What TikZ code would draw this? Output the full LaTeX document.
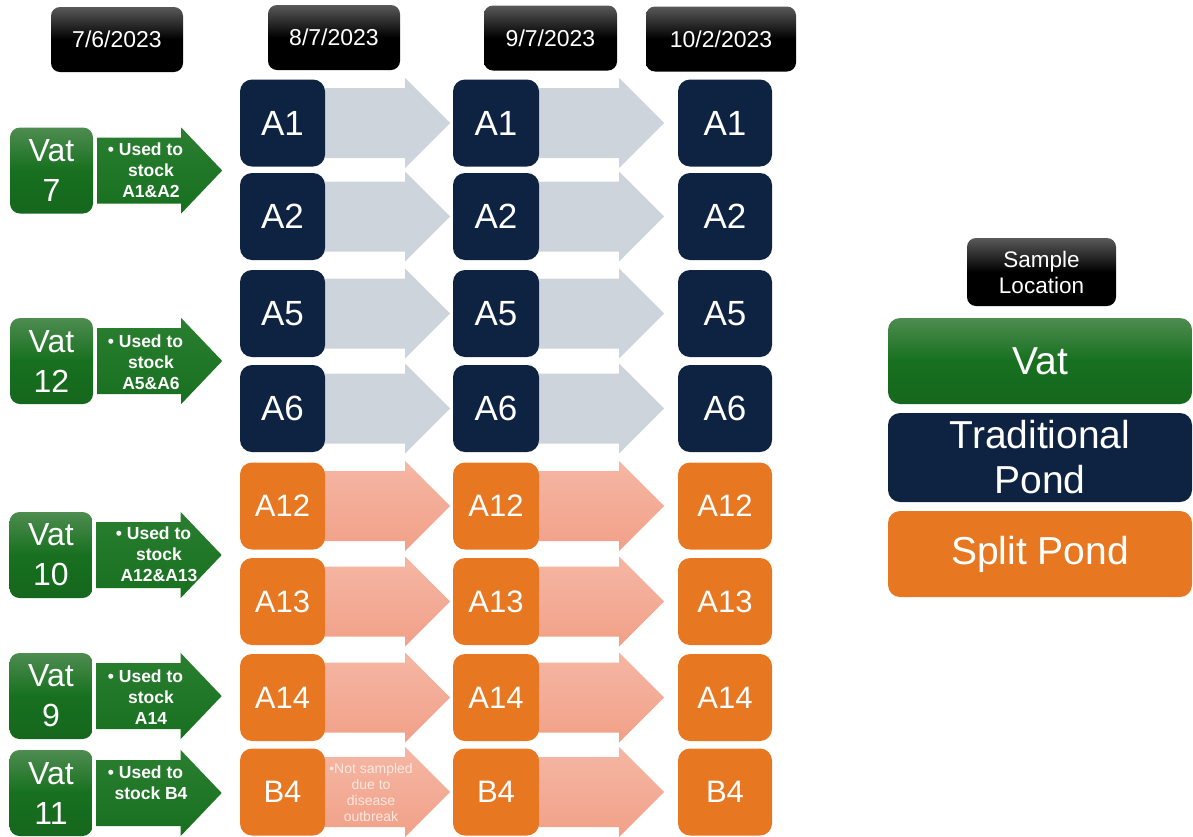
\documentclass[tikz,border=0pt]{standalone}
\usepackage{fontspec}
\setmainfont{Liberation Sans}
\usetikzlibrary{calc}
\pgfdeclarelayer{bg}
\pgfsetlayers{bg,main}
\definecolor{navy}{HTML}{0E2341}
\definecolor{orng}{HTML}{E87722}
\definecolor{vgreen}{HTML}{17701F}
\definecolor{vgreenlt}{HTML}{4E8C50}
\definecolor{vgreenarr}{HTML}{2A7E30}
\definecolor{garrow}{HTML}{CED4DB}
\definecolor{parrowtop}{HTML}{F4B7A4}
\definecolor{parrowbot}{HTML}{F2A088}
\definecolor{notetext}{HTML}{FCE8E0}
\newcommand\fsz[2]{\fontsize{#1}{#2}\selectfont}
\newcommand\blockarrow[2]{%
  \path[#1] ($(#2.east)+(-10,-35)$) -- ($(#2.east)+(80,-35)$) -- ($(#2.east)+(80,-45)$)
    -- ($(#2.east)+(125,0)$) -- ($(#2.east)+(80,45)$) -- ($(#2.east)+(80,35)$)
    -- ($(#2.east)+(-10,35)$) -- cycle;}
\newcommand\vatarrow[1]{%
  \path[vatarr] ($(#1.east)+(4,-33)$) -- ($(#1.east)+(88,-33)$) -- ($(#1.east)+(88,-43)$)
    -- ($(#1.east)+(129,0)$) -- ($(#1.east)+(88,43)$) -- ($(#1.east)+(88,33)$)
    -- ($(#1.east)+(4,33)$) -- cycle;}
\begin{document}
\begin{tikzpicture}[x=1pt,y=-1pt,
  datebox/.style={rounded corners=9pt, top color=black!65, bottom color=black, middle color=black,
    text=white, font=\fsz{23}{27}, minimum height=65pt, inner sep=0pt},
  pond/.style={rounded corners=12pt, text=white, inner sep=0pt, minimum height=87pt},
  vatbox/.style={rounded corners=10pt, top color=vgreenlt, bottom color=vgreen!92!black, middle color=vgreen,
    text=white, inner sep=0pt, minimum width=83pt, minimum height=86pt, align=center, font=\fsz{32}{40}},
  vatarr/.style={top color=vgreenarr, bottom color=vgreen},
  vattext/.style={text=white, align=center, inner sep=0pt, font=\bfseries\fsz{17.5}{21}},
  grayarr/.style={fill=garrow},
  pinkarr/.style={top color=parrowtop, bottom color=parrowbot},
  legend/.style={rounded corners=12pt, text=white, inner sep=0pt, minimum width=304pt, align=center, font=\fsz{39}{45}}
]
\useasboundingbox (0,0) rectangle (1193,836);

% date headers
\node[datebox, minimum width=132pt] (d1) at (117,39.5) {7/6/2023};
\node[datebox, minimum width=132pt] (d2) at (334,37.5) {8/7/2023};
\node[datebox, minimum width=133pt] (d3) at (550.5,38) {9/7/2023};
\node[datebox, minimum width=150pt] (d4) at (721,39) {10/2/2023};

% pond boxes
\foreach \n/\y/\c/\f in {A1/123/navy/35, A2/216.5/navy/35, A5/313.5/navy/35, A6/408.5/navy/35,
    A12/506/orng/31, A13/601.5/orng/31, A14/697.5/orng/31, B4/792/orng/31}{
  \node[pond, fill=\c, minimum width=85pt, font=\fsz{\f}{\f}] (c1\n) at (282.5,\y) {\n};
  \node[pond, fill=\c, minimum width=86pt, font=\fsz{\f}{\f}] (c2\n) at (496,\y) {\n};
  \node[pond, fill=\c, minimum width=94pt, font=\fsz{\f}{\f}] (c3\n) at (725,\y) {\n};
}

% block arrows between ponds
\begin{pgfonlayer}{bg}
\foreach \n in {A1,A2,A5,A6}{
  \blockarrow{grayarr}{c1\n}
  \blockarrow{grayarr}{c2\n}
}
\foreach \n in {A12,A13,A14,B4}{
  \blockarrow{pinkarr}{c1\n}
  \blockarrow{pinkarr}{c2\n}
}
\end{pgfonlayer}
\node[text=notetext, align=center, inner sep=0pt, font=\fsz{14}{16.3}] (note) at (371,792.5)
  {\textbullet Not sampled\\due to\\disease\\outbreak};

% vats
\node[vatbox] (v7) at (51.5,170.5) {Vat\\7};
\node[vatbox] (v12) at (51.5,361) {Vat\\12};
\node[vatbox] (v10) at (51,555) {Vat\\10};
\node[vatbox] (v9) at (51,696) {Vat\\9};
\node[vatbox] (v11) at (51,793) {Vat\\11};
\begin{pgfonlayer}{bg}
\vatarrow{v7}
\vatarrow{v12}
\vatarrow{v10}
\vatarrow{v9}
\vatarrow{v11}
\end{pgfonlayer}
\node[vattext] (t7) at (151,170) {\llap{\textbullet\ }Used to\\stock\\A1\&A2};
\node[vattext] (t12) at (151,362) {\llap{\textbullet\ }Used to\\stock\\A5\&A6};
\node[vattext] (t10) at (159,554) {\llap{\textbullet\ }Used to\\stock\\A12\&A13};
\node[vattext] (t9) at (151,697) {\llap{\textbullet\ }Used to\\stock\\A14};
\node[vattext] (t11) at (151,783) {\llap{\textbullet\ }Used to\\stock B4};

% legend
\node[datebox, minimum width=149pt, minimum height=68pt, align=center, font=\fsz{22.5}{26}] (sl) at (1041.5,272) {Sample\\Location};
\node[legend, top color=vgreenlt, bottom color=vgreen!92!black, middle color=vgreen, minimum height=86pt] (lv) at (1040,361) {Vat};
\node[legend, fill=navy, minimum height=89pt] (lt) at (1040,457.5) {Traditional\\Pond};
\node[legend, fill=orng, minimum height=86pt] (ls) at (1040,554) {Split Pond};
\end{tikzpicture}
\end{document}
